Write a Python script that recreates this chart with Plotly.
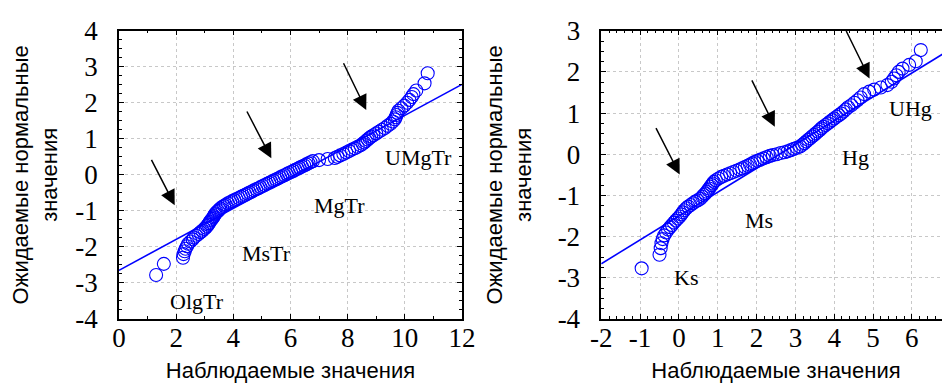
import plotly.graph_objects as go

# ---------------- data ----------------
left_obs = [1.30, 1.57, 2.24, 2.26, 2.30, 2.33, 2.38, 2.42, 2.50, 2.58, 2.62, 2.70, 2.78, 2.85, 2.92, 2.98,
            3.04, 3.08, 3.12, 3.15, 3.18, 3.22, 3.26, 3.30, 3.32, 3.35, 3.38, 3.42, 3.47, 3.51, 3.55, 3.61,
            3.68, 3.74, 3.81, 3.89, 3.96, 4.04, 4.11, 4.19, 4.27, 4.34, 4.42, 4.50, 4.57, 4.65, 4.72, 4.80,
            4.88, 4.95, 5.03, 5.10, 5.18, 5.26, 5.33, 5.41, 5.49, 5.56, 5.64, 5.71, 5.79, 5.87, 5.94, 6.02,
            6.10, 6.17, 6.25, 6.32, 6.40, 6.48, 6.55, 6.63, 6.70, 6.78, 7.00, 7.30, 7.55, 7.64, 7.74, 7.85,
            7.95, 8.05, 8.15, 8.25, 8.35, 8.45, 8.52, 8.58, 8.64, 8.70, 8.76, 8.82, 8.90, 9.00, 9.10, 9.20,
            9.30, 9.40, 9.50, 9.58, 9.65, 9.68, 9.71, 9.74, 9.78, 9.88, 9.98, 10.08, 10.16, 10.24, 10.30,
            10.40, 10.69, 10.80]
left_exp = [-2.78, -2.47, -2.30, -2.20, -2.12, -2.05, -1.98, -1.91, -1.85, -1.79, -1.74, -1.69, -1.64, -1.59,
            -1.55, -1.50, -1.46, -1.42, -1.38, -1.34, -1.30, -1.26, -1.22, -1.18, -1.14, -1.10, -1.07, -1.03,
            -1.00, -0.96, -0.93, -0.89, -0.86, -0.83, -0.79, -0.76, -0.73, -0.70, -0.67, -0.64, -0.61, -0.58,
            -0.55, -0.52, -0.49, -0.46, -0.43, -0.40, -0.37, -0.34, -0.31, -0.28, -0.25, -0.22, -0.19, -0.16,
            -0.13, -0.10, -0.07, -0.04, -0.01, 0.02, 0.05, 0.08, 0.11, 0.14, 0.17, 0.20, 0.23, 0.26, 0.29,
            0.32, 0.35, 0.38, 0.41, 0.44, 0.47, 0.50, 0.54, 0.58, 0.62, 0.66, 0.70, 0.74, 0.78, 0.82, 0.86,
            0.90, 0.94, 0.98, 1.02, 1.06, 1.10, 1.15, 1.20, 1.25, 1.30, 1.36, 1.42, 1.48, 1.54, 1.60, 1.66,
            1.72, 1.78, 1.85, 1.92, 2.00, 2.08, 2.16, 2.24, 2.34, 2.54, 2.82]
left_fit = (-2.65, 0.43)   # intercept, slope

right_obs = [-0.96, -0.50, -0.47, -0.45, -0.42, -0.38, -0.33, -0.28, -0.23, -0.18, -0.13, -0.08, -0.03, 0.02,
             0.06, 0.10, 0.14, 0.19, 0.24, 0.30, 0.36, 0.42, 0.48, 0.55, 0.60, 0.64, 0.68, 0.72, 0.75, 0.78,
             0.81, 0.84, 0.87, 0.90, 0.95, 1.02, 1.09, 1.16, 1.24, 1.32, 1.40, 1.48, 1.56, 1.63, 1.70, 1.77,
             1.83, 1.89, 1.95, 2.02, 2.10, 2.18, 2.26, 2.34, 2.42, 2.52, 2.62, 2.72, 2.80, 2.88, 2.96, 3.04,
             3.12, 3.18, 3.23, 3.28, 3.33, 3.38, 3.43, 3.48, 3.53, 3.58, 3.63, 3.67, 3.72, 3.78, 3.84, 3.89,
             3.95, 4.00, 4.06, 4.12, 4.18, 4.24, 4.30, 4.36, 4.44, 4.52, 4.60, 4.68, 4.77, 4.90, 5.03, 5.20,
             5.37, 5.48, 5.54, 5.60, 5.66, 5.76, 5.93, 6.10, 6.23]
right_exp = [-2.77, -2.44, -2.28, -2.16, -2.06, -1.97, -1.90, -1.83, -1.77, -1.72, -1.66, -1.61, -1.56, -1.51,
             -1.46, -1.41, -1.36, -1.31, -1.27, -1.23, -1.19, -1.15, -1.12, -1.08, -1.03, -0.99, -0.95, -0.91,
             -0.87, -0.83, -0.79, -0.75, -0.71, -0.67, -0.63, -0.59, -0.55, -0.52, -0.49, -0.46, -0.43, -0.40,
             -0.37, -0.34, -0.31, -0.28, -0.25, -0.22, -0.19, -0.16, -0.13, -0.10, -0.07, -0.04, -0.02, 0.00,
             0.03, 0.05, 0.07, 0.10, 0.13, 0.16, 0.19, 0.23, 0.27, 0.31, 0.35, 0.39, 0.43, 0.47, 0.51, 0.55,
             0.59, 0.63, 0.67, 0.71, 0.75, 0.79, 0.83, 0.87, 0.91, 0.95, 0.99, 1.04, 1.09, 1.14, 1.19, 1.25,
             1.31, 1.38, 1.46, 1.52, 1.57, 1.62, 1.68, 1.76, 1.84, 1.92, 2.00, 2.08, 2.17, 2.26, 2.53]
right_fit = (-1.50, 0.579)

left_xrange = [0, 12]
left_yrange = [-4, 4]
right_xrange = [-2, 7]
right_yrange = [-4, 3]

left_xticks = [0, 2, 4, 6, 8, 10, 12]
left_yticks = [-4, -3, -2, -1, 0, 1, 2, 3, 4]
right_xticks = [-2, -1, 0, 1, 2, 3, 4, 5, 6, 7]
right_yticks = [-4, -3, -2, -1, 0, 1, 2, 3]

left_labels = [("OlgTr", 2.73, -3.52), ("MsTr", 5.15, -2.18), ("MgTr", 7.72, -0.86), ("UMgTr", 10.48, 0.48)]
right_labels = [("Ks", 0.19, -2.99), ("Ms", 2.07, -1.61), ("Hg", 4.54, -0.08), ("UHg", 5.97, 1.10)]
# arrows: (tail_x, tail_y, tip_x, tip_y)
left_arrows = [(1.11, 0.46, 1.95, -0.84), (4.45, 1.80, 5.33, 0.46), (7.83, 3.14, 8.65, 1.80)]
right_arrows = [(-0.61, 0.67, 0.02, -0.49), (1.86, 1.83, 2.47, 0.67), (4.29, 3.03, 4.91, 1.84)]

x_title = "Наблюдаемые значения"
y_title = "Ожидаемые нормальные<br>значения"

# ---------------- styling ----------------
BLUE = "#0000FF"
SERIF = "Liberation Serif"
SANS = "Liberation Sans"
TICKFONT = dict(family=SERIF, size=27, color="black")
TITLEFONT = dict(family=SANS, size=22, color="black")

fig = go.Figure()

def add_panel(obs, exp, fit, xr, xa, ya):
    fig.add_trace(go.Scatter(
        x=obs, y=exp, mode="markers", xaxis=xa, yaxis=ya, showlegend=False,
        marker=dict(symbol="circle-open", size=13, color=BLUE, line=dict(width=1.1, color=BLUE)),
    ))
    b0, b1 = fit
    fig.add_trace(go.Scatter(
        x=[xr[0], xr[1]], y=[b0 + b1 * xr[0], b0 + b1 * xr[1]], mode="lines",
        xaxis=xa, yaxis=ya, showlegend=False, line=dict(color=BLUE, width=1.6),
    ))

add_panel(left_obs, left_exp, left_fit, left_xrange, "x", "y")
add_panel(right_obs, right_exp, right_fit, right_xrange, "x2", "y2")

def labels(vals):
    return [str(v) for v in vals]   # plain hyphen minus, as in the reference

def axis(domain, rng, ticks, minor_dtick, title, standoff, label_standoff, anchor):
    return dict(
        domain=domain, range=rng, tickmode="array", tickvals=ticks, ticktext=labels(ticks),
        minor=dict(dtick=minor_dtick, tick0=0, ticks="inside", ticklen=3, tickcolor="black",
                   tickwidth=1, showgrid=False),
        title=dict(text=title, font=TITLEFONT, standoff=standoff),
        showline=True, linecolor="black", linewidth=1.5, mirror="ticks",
        ticks="inside", ticklen=5, tickwidth=1.2, tickcolor="black",
        showgrid=True, gridcolor="#c8c8c8", griddash="dot", gridwidth=1,
        zeroline=False, tickfont=TICKFONT, automargin=False,
        ticklabelstandoff=label_standoff, anchor=anchor,
    )

fig.update_layout(
    width=950, height=389,
    margin=dict(l=0, r=0, t=0, b=0),
    paper_bgcolor="white", plot_bgcolor="white",
    font=dict(family=SERIF, size=24, color="black"),
    xaxis=axis([0.1168, 0.4779], left_xrange, left_xticks, 1, x_title, 10, -6, "y"),
    yaxis=axis([0.2005, 0.9416], left_yrange, left_yticks, 0.25, y_title, 20, 14, "x"),
    xaxis2=axis([0.6245, 0.9923], right_xrange, right_xticks, 0.2, x_title, 10, -6, "y2"),
    yaxis2=axis([0.2005, 0.9416], right_yrange, right_yticks, 0.25, y_title, 20, 14, "x2"),
)

annotations = []
for lbls, xa, ya in ((left_labels, "x", "y"), (right_labels, "x2", "y2")):
    for txt, lx, ly in lbls:
        annotations.append(dict(text=txt, x=lx, y=ly, xref=xa, yref=ya, showarrow=False,
                                font=dict(family=SERIF, size=22, color="black")))
for arrows, xa, ya in ((left_arrows, "x", "y"), (right_arrows, "x2", "y2")):
    for tx, ty, hx, hy in arrows:
        annotations.append(dict(text="", x=hx, y=hy, ax=tx, ay=ty, xref=xa, yref=ya,
                                axref=xa, ayref=ya, showarrow=True, arrowhead=2,
                                arrowsize=2, arrowwidth=1.5, arrowcolor="black", standoff=0))
fig.update_layout(annotations=annotations)

fig.write_html("out.html")
